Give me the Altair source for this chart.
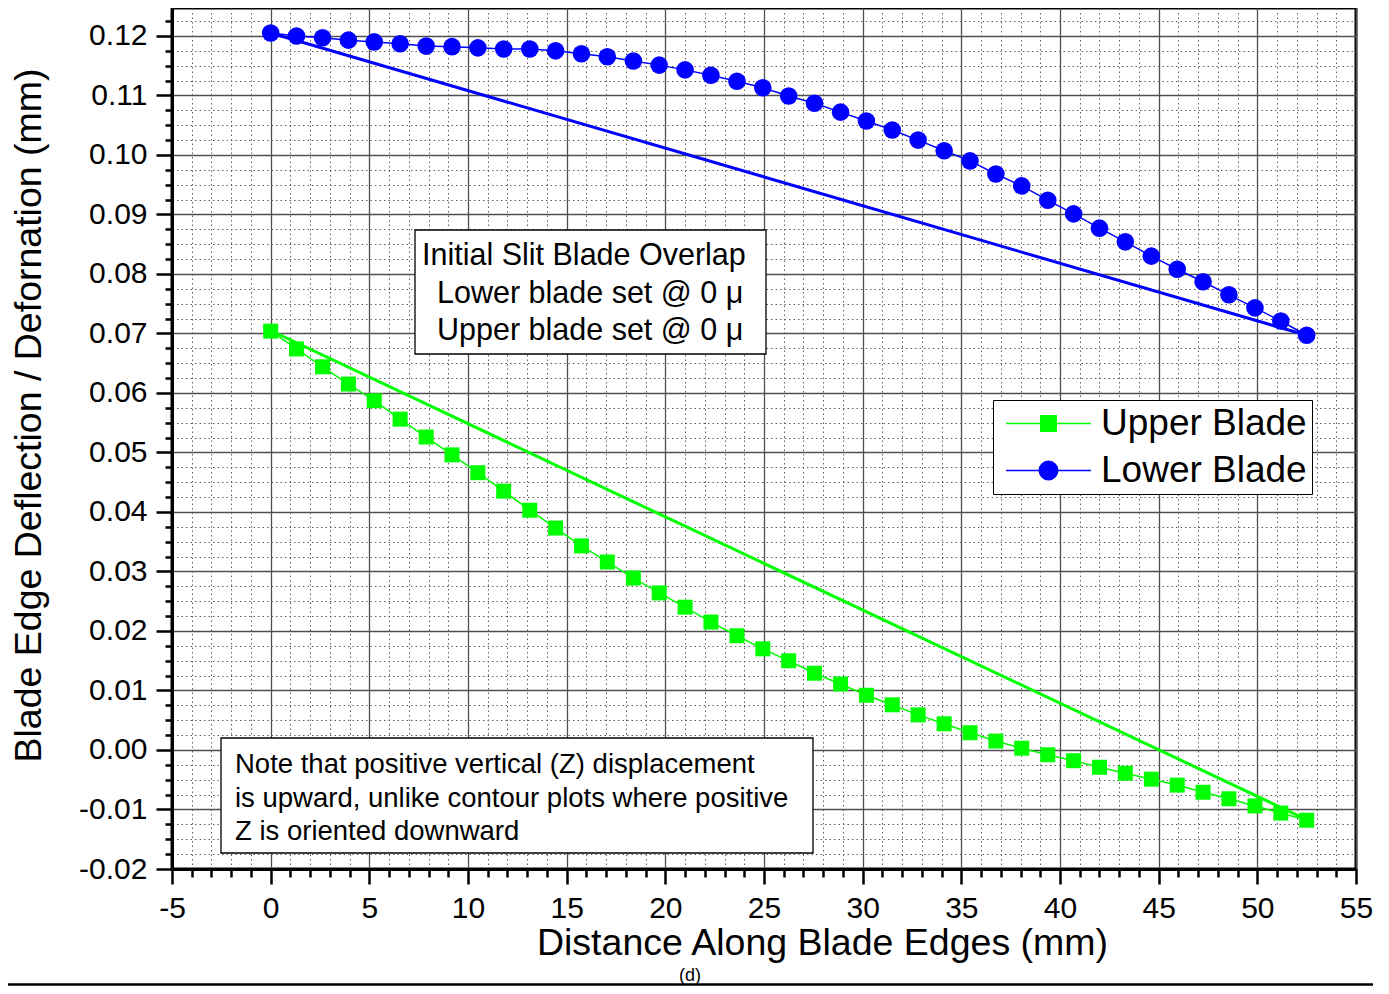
import altair as alt
import pandas as pd

# ---------------- data ----------------
x_mm = [0.0, 1.31, 2.63, 3.94, 5.25, 6.56, 7.88, 9.19, 10.5, 11.81, 13.13, 14.44,
        15.75, 17.06, 18.38, 19.69, 21.0, 22.31, 23.63, 24.94, 26.25, 27.56, 28.88,
        30.19, 31.5, 32.81, 34.13, 35.44, 36.75, 38.06, 39.38, 40.69, 42.0, 43.31,
        44.63, 45.94, 47.25, 48.56, 49.88, 51.19, 52.5]

upper_blade = [0.0704, 0.0674, 0.0644, 0.0615, 0.0587, 0.0556, 0.0526, 0.0496, 0.0466,
               0.0435, 0.0403, 0.0373, 0.0343, 0.0316, 0.0289, 0.0264, 0.0240, 0.0215,
               0.0192, 0.0170, 0.0150, 0.0129, 0.0111, 0.0092, 0.0076, 0.0059, 0.0044,
               0.0029, 0.0015, 0.0003, -0.0008, -0.0018, -0.0029, -0.0039, -0.0049,
               -0.0059, -0.0071, -0.0082, -0.0094, -0.0106, -0.0118]

lower_blade = [0.1205, 0.1200, 0.1197, 0.1193, 0.1190, 0.1187, 0.1183, 0.1182, 0.1180,
               0.1178, 0.1178, 0.1175, 0.1170, 0.1165, 0.1158, 0.1151, 0.1143, 0.1134,
               0.1124, 0.1113, 0.1099, 0.1087, 0.1072, 0.1057, 0.1042, 0.1025, 0.1007,
               0.0990, 0.0968, 0.0948, 0.0924, 0.0901, 0.0877, 0.0854, 0.0830, 0.0808,
               0.0787, 0.0765, 0.0743, 0.0721, 0.0697]

chord_x = [0.0, 52.5]
upper_chord = [0.0705, -0.0117]
lower_chord = [0.1205, 0.0697]

series_names = ["Upper Blade", "Lower Blade"]
series_colors = ["#00FF00", "#0000FF"]
series_shapes = ["square", "circle"]

x_ticks = list(range(-5, 56))
y_ticks = [round(-0.02 + 0.0025 * i, 4) for i in range(58)]

overlap_note = ["Initial Slit Blade Overlap",
                "Lower blade set @ 0 \u03bc",
                "Upper blade set @ 0 \u03bc"]
z_note = ["Note that positive vertical (Z) displacement",
          "is upward, unlike contour plots where positive",
          "Z is oriented downward"]
caption = "(d)"

# ---------------- layout ----------------
FONT = "Liberation Sans"
W, H = 1184, 861
xs = alt.Scale(domain=[-5, 55], nice=False, zero=False)
ys = alt.Scale(domain=[-0.02, 0.1247], nice=False, zero=False)

xmaj = "abs(datum.value % 5) < 0.001"
ymaj = "abs(datum.value*100 - round(datum.value*100)) < 0.01"


def cond(test, a, b):
    return {"condition": {"test": test, "value": a}, "value": b}


x_axis = alt.Axis(
    values=x_ticks, title="Distance Along Blade Edges (mm)",
    labelExpr=xmaj + " ? (datum.value < 0 ? '-' : '') + format(abs(datum.value), 'd') : ''",
    labelOverlap=False, labelFlush=False, labelFont=FONT, labelFontSize=30,
    labelColor="black", labelPadding=9,
    grid=True, gridColor=cond(xmaj, "#505050", "#606060"),
    gridDash=cond(xmaj, [], [1.5, 3]), gridWidth=cond(xmaj, 1.3, 1),
    tickSize=cond(xmaj, 15, 8), tickWidth=2.5, tickColor="black",
    domainColor="black", domainWidth=3,
    titleFont=FONT, titleFontSize=37.5, titleFontWeight="normal", titleColor="black",
    titleX=650, titleY=85, titleAlign="center", titleBaseline="alphabetic")

y_axis = alt.Axis(
    values=y_ticks, title="Blade Edge Deflection / Defornation (mm)",
    labelExpr=ymaj + " ? (datum.value < -0.0001 ? '-' : '') + format(abs(datum.value), '.2f') : ''",
    labelOverlap=False, labelFlush=False, labelFont=FONT, labelFontSize=30,
    labelColor="black", labelPadding=9,
    grid=True, gridColor=cond(ymaj, "#505050", "#606060"),
    gridDash=cond(ymaj, [], [1.5, 3]), gridWidth=cond(ymaj, 1.3, 1),
    tickSize=cond(ymaj, 16, 7), tickWidth=2.5, tickColor="black",
    domainColor="black", domainWidth=3,
    titleFont=FONT, titleFontSize=37.5, titleFontWeight="normal", titleColor="black",
    titleX=-132, titleY=407, titleAngle=270, titleAlign="center",
    titleBaseline="alphabetic")

layers = []

# straight chords (thick)
for vals, col in [(upper_chord, series_colors[0]), (lower_chord, series_colors[1])]:
    d = pd.DataFrame({"x": chord_x, "y": vals})
    layers.append(alt.Chart(d).mark_line(color=col, strokeWidth=3).encode(
        x=alt.X("x:Q", scale=xs, axis=x_axis), y=alt.Y("y:Q", scale=ys, axis=y_axis)))

# series: thin line + markers
for vals, col, shp, sz in [(upper_blade, series_colors[0], series_shapes[0], 225),
                           (lower_blade, series_colors[1], series_shapes[1], 310)]:
    d = pd.DataFrame({"x": x_mm, "y": vals})
    base = alt.Chart(d).encode(x=alt.X("x:Q", scale=xs, axis=x_axis),
                               y=alt.Y("y:Q", scale=ys, axis=y_axis))
    layers.append(base.mark_line(color=col, strokeWidth=1.5))
    layers.append(base.mark_point(shape=shp, filled=True, color=col, size=sz, opacity=1))

# legend (line + marker symbols)
sq_path = "M-3.86,0H3.86M-0.7,-0.7H0.7V0.7H-0.7Z"
ci_path = "M-3.86,0H3.86M-0.84,0A0.84,0.84 0 1,0 0.84,0A0.84,0.84 0 1,0 -0.84,0Z"
leg = alt.Legend(title=None, orient="none", legendX=821, legendY=392,
                 padding=5, strokeColor="black", fillColor="white",
                 labelFont=FONT, labelFontSize=37, labelColor="black",
                 labelOffset=34, symbolOffset=32, symbolSize=484, symbolStrokeWidth=1.5,
                 rowPadding=9, labelLimit=400)
leg_df = pd.DataFrame({"series": series_names, "x": [0.0, 0.0], "y": [0.0, 0.0]})
layers.append(alt.Chart(leg_df).transform_filter("false").mark_point(filled=True, opacity=1).encode(
    x=alt.X("x:Q", scale=xs, axis=x_axis), y=alt.Y("y:Q", scale=ys, axis=y_axis),
    shape=alt.Shape("series:N", scale=alt.Scale(domain=series_names, range=[sq_path, ci_path]), legend=leg),
    fill=alt.Fill("series:N", scale=alt.Scale(domain=series_names, range=series_colors), legend=leg),
    stroke=alt.Stroke("series:N", scale=alt.Scale(domain=series_names, range=series_colors), legend=leg)))

# annotation boxes
one = pd.DataFrame({"k": [0]})
for (x0, x1, y0, y1) in [(243, 594, 222, 346), (49, 641, 730, 845)]:
    layers.append(alt.Chart(one).mark_rect(fill="white", stroke="black", strokeWidth=1.3).encode(
        x=alt.value(x0), x2=alt.value(x1), y=alt.value(y0), y2=alt.value(y1)))

for i, line in enumerate(overlap_note):
    layers.append(alt.Chart(pd.DataFrame({"t": [line]})).mark_text(
        font=FONT, fontSize=30.5, align="left", baseline="alphabetic", color="black").encode(
        x=alt.value(250 if i == 0 else 265), y=alt.value(257 + i * 37.6), text="t:N"))

for i, line in enumerate(z_note):
    layers.append(alt.Chart(pd.DataFrame({"t": [line]})).mark_text(
        font=FONT, fontSize=27.5, align="left", baseline="alphabetic", color="black").encode(
        x=alt.value(63), y=alt.value(765 + i * 33.5), text="t:N"))

# caption and bottom rule
layers.append(alt.Chart(pd.DataFrame({"t": [caption]})).mark_text(
    font=FONT, fontSize=18, align="center", baseline="alphabetic", color="black").encode(
    x=alt.value(518), y=alt.value(973), text="t:N"))
layers.append(alt.Chart(one).mark_rule(color="black", strokeWidth=2.5).encode(
    x=alt.value(-164), x2=alt.value(1201), y=alt.value(976.5)))

chart = alt.layer(*layers).properties(
    width=W, height=H,
    autosize=alt.AutoSizeParams(type="none"),
    padding={"left": 164, "top": 0, "right": 17, "bottom": 117},
    background="white",
).configure_view(stroke="black", strokeWidth=3)

chart.save("out.html", embed_options={"renderer": "svg", "actions": False})
